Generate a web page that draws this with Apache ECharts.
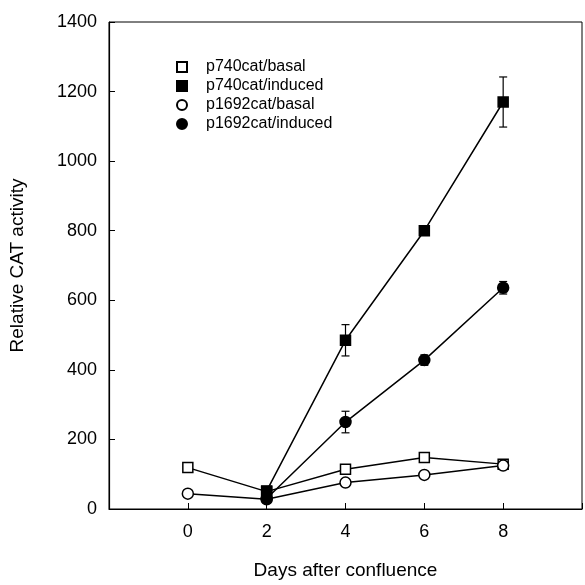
<!DOCTYPE html>
<html>
<head>
<meta charset="utf-8">
<script src="https://cdn.jsdelivr.net/npm/echarts@6/dist/echarts.min.js"></script>
<style>
html, body { margin: 0; padding: 0; background: #fff; }
#chart { width: 585px; height: 585px; }
</style>
</head>
<body>
<div id="chart"></div>
<script>
// days after confluence
var days = [0, 2, 4, 6, 8];
// relative CAT activity
var p740Basal = [119, 50, 114, 148, 129];
var p740Induced = [null, 52, 485, 800, 1170];
var p1692Basal = [44, 28, 76, 98, 125];
var p1692Induced = [null, 30, 250, 428, 636];
// error bar (+/-)
var p740InducedErr = [0, 0, 45, 0, 72];
var p1692InducedErr = [0, 0, 31, 15, 18];

var names = ['p740cat/basal', 'p740cat/induced', 'p1692cat/basal', 'p1692cat/induced'];

function pairs(vals) {
    var out = [];
    vals.forEach(function (v, i) {
        if (v !== null) out.push([days[i], v]);
    });
    return out;
}

function errData(vals, errs) {
    var out = [];
    vals.forEach(function (v, i) {
        if (v !== null && errs[i] > 0) out.push([days[i], v - errs[i], v + errs[i]]);
    });
    return out;
}

function errorBars(api) {
    var x = api.value(0);
    var lo = api.coord([x, api.value(1)]);
    var hi = api.coord([x, api.value(2)]);
    var half = 4;
    var style = { stroke: '#000', lineWidth: 1.2 };
    return {
        type: 'group',
        children: [
            { type: 'line', shape: { x1: lo[0], y1: lo[1], x2: hi[0], y2: hi[1] }, style: style },
            { type: 'line', shape: { x1: lo[0] - half, y1: lo[1], x2: lo[0] + half, y2: lo[1] }, style: style },
            { type: 'line', shape: { x1: hi[0] - half, y1: hi[1], x2: hi[0] + half, y2: hi[1] }, style: style }
        ]
    };
}

function lineSeries(name, vals, symbol, filled) {
    return {
        name: name,
        type: 'line',
        data: pairs(vals),
        symbol: symbol,
        symbolSize: symbol === 'rect' ? 10 : 11,
        showAllSymbol: true,
        lineStyle: { color: '#000', width: 1.5 },
        itemStyle: {
            color: filled ? '#000' : '#fff',
            borderColor: '#000',
            borderWidth: 1.5,
            opacity: 1
        },
        z: filled ? 4 : 3,
        animation: false
    };
}

var myChart = echarts.init(document.getElementById('chart'));
var option = {
    animation: false,
    textStyle: { fontFamily: 'Liberation Sans, Arial, sans-serif' },
    grid: {
        left: 109,
        right: 1,
        top: 22,
        bottom: 74,
        show: true,
        borderColor: '#000',
        borderWidth: 1,
        backgroundColor: 'transparent'
    },
    legend: {
        orient: 'vertical',
        left: 171,
        top: 54,
        itemGap: 3,
        itemWidth: 10,
        itemHeight: 10,
        textStyle: { color: '#000', fontSize: 16, fontFamily: 'Liberation Sans, Arial, sans-serif', padding: [0, 0, 0, 14] },
        data: [
            { name: names[0], icon: 'rect' },
            { name: names[1], icon: 'rect' },
            { name: names[2], icon: 'circle' },
            { name: names[3], icon: 'circle' }
        ]
    },
    xAxis: {
        type: 'value',
        min: -2,
        max: 10,
        interval: 2,
        name: 'Days after confluence',
        nameLocation: 'middle',
        nameGap: 52,
        nameTextStyle: { color: '#000', fontSize: 19 },
        axisLine: { onZero: false, lineStyle: { color: '#000', width: 1.2 } },
        axisTick: { inside: true, length: 6, lineStyle: { color: '#000' } },
        axisLabel: {
            color: '#000',
            fontSize: 18,
            margin: 14,
            formatter: function (v) { return (v < 0 || v > 8) ? '' : String(v); }
        },
        splitLine: { show: false }
    },
    yAxis: {
        type: 'value',
        min: 0,
        max: 1400,
        interval: 200,
        name: 'Relative CAT activity',
        nameLocation: 'middle',
        nameGap: 82,
        nameTextStyle: { color: '#000', fontSize: 19 },
        axisLine: { show: true, onZero: false, lineStyle: { color: '#000', width: 1.2 } },
        axisTick: { inside: true, length: 6, lineStyle: { color: '#000' } },
        axisLabel: { color: '#000', fontSize: 18, margin: 12, formatter: function (v) { return String(v); } },
        splitLine: { show: false }
    },
    series: [
        lineSeries(names[0], p740Basal, 'rect', false),
        lineSeries(names[1], p740Induced, 'rect', true),
        lineSeries(names[2], p1692Basal, 'circle', false),
        lineSeries(names[3], p1692Induced, 'circle', true),
        {
            type: 'custom',
            renderItem: function (params, api) { return errorBars(api); },
            data: errData(p740Induced, p740InducedErr),
            encode: { x: 0, y: [1, 2] },
            z: 2,
            animation: false
        },
        {
            type: 'custom',
            renderItem: function (params, api) { return errorBars(api); },
            data: errData(p1692Induced, p1692InducedErr),
            encode: { x: 0, y: [1, 2] },
            z: 2,
            animation: false
        }
    ]
};
myChart.setOption(option);
</script>
</body>
</html>
